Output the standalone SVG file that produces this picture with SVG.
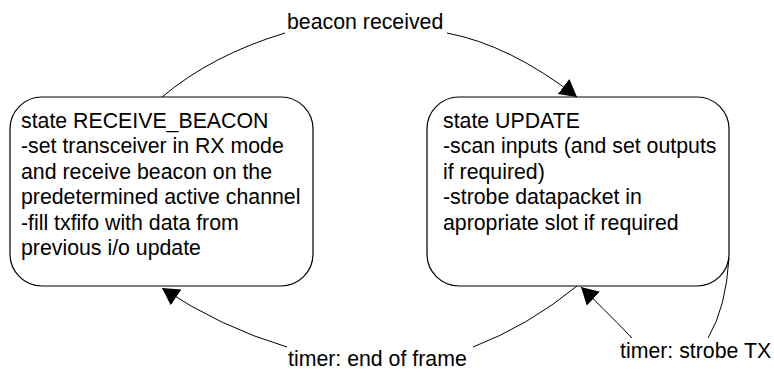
<svg xmlns="http://www.w3.org/2000/svg" width="774" height="374" viewBox="0 0 774 374">
  <style>
    .state { fill: #ffffff; stroke: #000000; stroke-width: 1.2; }
    .label { font-family: "Liberation Sans", Arial, sans-serif; font-size: 21.3px; fill: #000000; }
    .edge { fill: none; stroke: #000000; stroke-width: 1; }
  </style>
  <defs>
    <marker id="arrow" markerUnits="userSpaceOnUse" markerWidth="18" markerHeight="20" refX="17" refY="9.5" orient="auto">
      <path d="M0,0 L17,9.5 L0,19 z" fill="#000000"/>
    </marker>
  </defs>

  <!-- state: RECEIVE_BEACON -->
  <g id="receive-beacon">
    <rect class="state" x="10" y="97" width="303" height="189" rx="32" ry="32"/>
    <text class="label" x="21" y="128">state RECEIVE_BEACON</text>
    <text class="label" x="21" y="153.4">-set transceiver in RX mode</text>
    <text class="label" x="21" y="178.8">and receive beacon on the</text>
    <text class="label" x="21" y="204.2">predetermined active channel</text>
    <text class="label" x="21" y="229.6">-fill txfifo with data from</text>
    <text class="label" x="21" y="255">previous i/o update</text>
  </g>

  <!-- state: UPDATE -->
  <g id="update">
    <rect class="state" x="427" y="97" width="302" height="189" rx="32" ry="32"/>
    <text class="label" x="443" y="128">state UPDATE</text>
    <text class="label" x="443" y="153.4">-scan inputs (and set outputs</text>
    <text class="label" x="443" y="178.8">if required)</text>
    <text class="label" x="443" y="204.2">-strobe datapacket in</text>
    <text class="label" x="443" y="229.6">apropriate slot if required</text>
  </g>

  <!-- transitions -->
  <g id="connectors">
    <path class="edge" d="M162,97 Q212,55 285,33"/>
    <path class="edge" d="M447,33 Q510,45 577,97" marker-end="url(#arrow)"/>
    <text class="label" x="287" y="29">beacon received</text>

    <path class="edge" d="M577,286 Q528,326 473,347"/>
    <path class="edge" d="M287,347 Q220,327 162,288" marker-end="url(#arrow)"/>
    <text class="label" x="288" y="366">timer: end of frame</text>

    <path class="edge" d="M729,258 Q726,308 708,338"/>
    <path class="edge" d="M632,338 Q600,305 581,287" marker-end="url(#arrow)"/>
    <text class="label" x="620" y="358">timer: strobe TX</text>
  </g>
</svg>
